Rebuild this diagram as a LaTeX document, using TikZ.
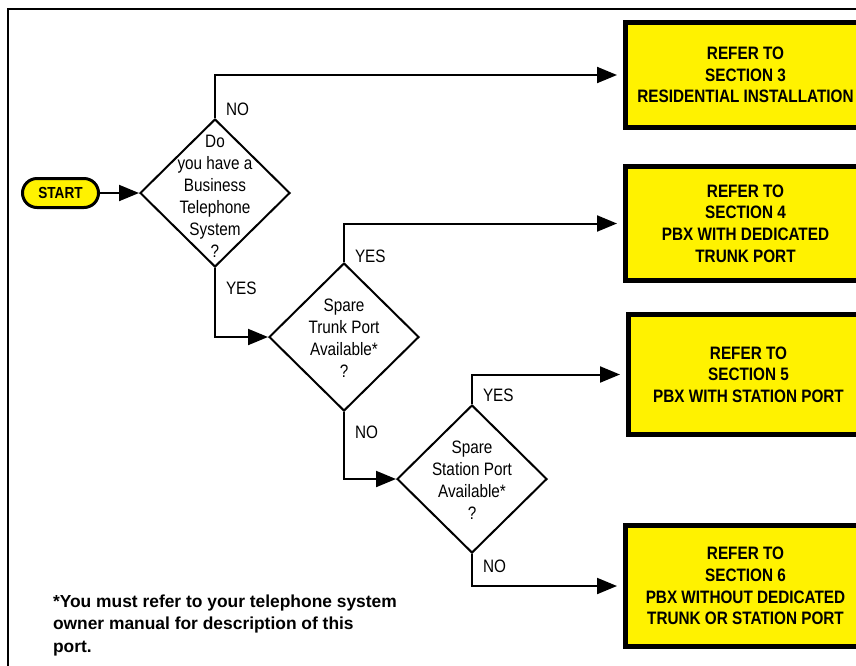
\documentclass[tikz,border=0pt]{standalone}
\usepackage{fontspec}
\setmainfont{Liberation Sans}
\newfontfamily\narrowfont{Liberation Sans}[FakeStretch=0.85]
\usetikzlibrary{shapes.geometric,arrows.meta}
\begin{document}
\begin{tikzpicture}[x=1pt,y=-1pt,>={Triangle[length=20pt,width=16pt]},line width=2pt]
\def\boxx{745.5}
\tikzset{base/.style={font=\narrowfont\fontsize{18}{22}\selectfont,align=center},
decision/.style={draw,diamond,line width=2pt,minimum width=150pt,minimum height=148pt,inner sep=0pt},
qtext/.style={base,inner sep=0pt},
refbox/.style={base,draw,fill=yellow,line width=5pt,minimum width=240pt,
  font=\narrowfont\bfseries\fontsize{18}{21.7}\selectfont},
startbox/.style={draw,fill=yellow,line width=3pt,rounded corners=14.5pt,minimum width=76pt,
  minimum height=29pt,inner sep=0pt,font=\narrowfont\bfseries\fontsize{16}{18}\selectfont},
answer/.style={base,anchor=west,inner sep=0pt,xshift=10pt},
note/.style={anchor=west,align=left,inner sep=0pt,font=\bfseries\fontsize{17.4}{22.5}\selectfont}}
\useasboundingbox (0,0) rectangle (856,665);
\clip (0,0) rectangle (856,665);
\draw[line width=1.5pt] (8,700) |- (900,9);
% start and questions
\node[startbox] (START) at (60.5,193) {START};
\node[decision] (Q1) at (215,193) {};
\node[qtext] (Q1text) at (215,196) {Do\\you have a\\Business\\Telephone\\System\\?};
\node[decision] (Q2) at (344,337) {};
\node[qtext] (Q2text) at (344,338) {Spare\\Trunk Port\\Available*\\?};
\node[decision] (Q3) at (472,479) {};
\node[qtext] (Q3text) at (472,480) {Spare\\Station Port\\Available*\\?};
% where to go
\node[refbox,minimum height=105pt] (S3) at (\boxx,75) {REFER TO\\SECTION 3\\RESIDENTIAL INSTALLATION};
\node[refbox,minimum height=114pt] (S4) at (\boxx,223.5) {REFER TO\\SECTION 4\\PBX WITH DEDICATED\\TRUNK PORT};
\node[refbox,minimum height=120pt] (S5) at (\boxx+3,374.5) {REFER TO\\SECTION 5\\PBX WITH STATION PORT};
\node[refbox,minimum height=121pt] (S6) at (\boxx,586) {REFER TO\\SECTION 6\\PBX WITHOUT DEDICATED\\TRUNK OR STATION PORT};
\node[note] (NOTE) at (52,625) {*You must refer to your telephone system\\owner manual for description of this\\port.};
% connectors
\draw[->] (START) -- (Q1);
\draw[->,shorten >=6pt] (Q1.north) |- node[answer,pos=0.1] (noA) {NO} (S3.west);
\draw[->] (Q1.south) |- node[answer,pos=0.145] (yesA) {YES} (Q2.west);
\draw[->,shorten >=6pt] (Q2.north) |- node[answer,pos=0.08] (yesB) {YES} (S4.west);
\draw[->] (Q2.south) |- node[answer,pos=0.15] (noB) {NO} (Q3.west);
\draw[->,shorten >=6pt] (Q3.north) |- node[answer,pos=0.14] (yesC) {YES} (S5.west);
\draw[->,shorten >=6pt] (Q3.south) |- node[answer,pos=0.19] (noC) {NO} (S6.west);
\end{tikzpicture}
\end{document}
